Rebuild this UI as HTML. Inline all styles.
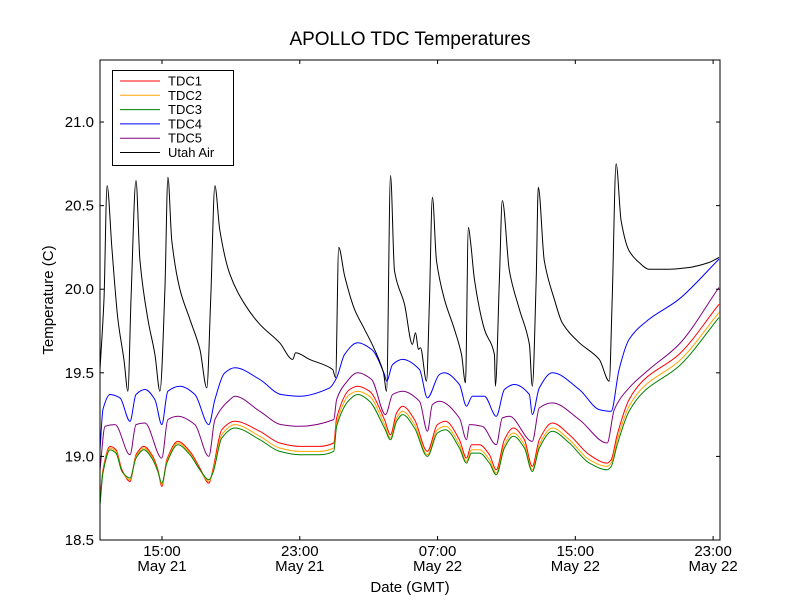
<!DOCTYPE html>
<html><head><meta charset="utf-8"><style>
body{margin:0;background:#fff}
svg{display:block;font-family:"Liberation Sans","DejaVu Sans",sans-serif}
</style></head><body>
<svg id="chart" width="800" height="600"></svg>
<script>
const tdcHours=[11.40,11.57,11.98,12.33,12.68,13.14,13.49,13.95,14.41,14.76,14.99,15.28,15.92,16.62,17.20,17.72,17.95,18.47,19.23,20.68,21.83,22.99,24.15,24.97,25.14,25.89,26.36,27.05,27.92,28.27,28.62,28.97,29.66,30.41,30.99,31.46,32.27,32.68,32.97,33.43,34.01,34.41,34.88,35.40,36.04,36.50,36.91,37.66,38.65,39.81,40.85,41.08,41.43,42.12,43.00,45.02,47.34];
const tdc1=[18.73,18.92,19.06,19.04,18.92,18.85,19.01,19.06,19.01,18.92,18.82,18.98,19.09,19.03,18.93,18.84,18.92,19.16,19.21,19.15,19.08,19.06,19.06,19.08,19.23,19.40,19.42,19.39,19.22,19.13,19.26,19.30,19.22,19.03,19.19,19.21,19.10,18.99,19.07,19.07,19.01,18.92,19.10,19.17,19.10,18.94,19.10,19.20,19.13,19.01,18.96,18.98,19.13,19.34,19.46,19.61,19.91];
const tdc2=[18.72,18.91,19.05,19.03,18.91,18.86,19.00,19.05,19.00,18.91,18.83,18.97,19.08,19.02,18.92,18.85,18.91,19.13,19.19,19.12,19.05,19.03,19.03,19.05,19.20,19.37,19.39,19.36,19.19,19.11,19.23,19.27,19.19,19.01,19.16,19.18,19.07,18.97,19.04,19.04,18.98,18.90,19.07,19.14,19.07,18.92,19.07,19.17,19.10,18.98,18.94,18.96,19.10,19.30,19.42,19.57,19.86];
const tdc3=[18.71,18.90,19.04,19.02,18.91,18.87,18.99,19.04,18.99,18.91,18.84,18.96,19.07,19.01,18.92,18.86,18.90,19.11,19.17,19.10,19.03,19.01,19.01,19.03,19.18,19.34,19.37,19.33,19.17,19.10,19.21,19.25,19.17,19.00,19.14,19.16,19.05,18.96,19.02,19.02,18.96,18.89,19.05,19.12,19.05,18.91,19.05,19.15,19.08,18.96,18.92,18.94,19.07,19.27,19.39,19.54,19.83];
const tdc4Hours=[11.40,11.57,11.98,12.56,13.14,13.49,14.01,14.59,14.99,15.34,16.04,16.91,17.72,18.07,18.65,19.23,20.68,21.92,22.99,24.73,25.14,25.60,26.36,27.17,27.92,28.04,28.39,28.97,29.95,30.41,31.11,31.40,32.27,32.68,33.02,33.72,34.41,34.88,35.46,36.33,36.50,36.91,37.66,39.23,40.39,41.08,41.54,42.12,43.28,45.02,47.34];
const tdc4=[19.04,19.28,19.37,19.35,19.21,19.37,19.40,19.34,19.19,19.39,19.42,19.37,19.19,19.34,19.50,19.53,19.46,19.37,19.36,19.41,19.47,19.61,19.68,19.64,19.49,19.45,19.55,19.58,19.52,19.35,19.49,19.50,19.43,19.30,19.36,19.36,19.24,19.40,19.43,19.37,19.25,19.41,19.50,19.40,19.28,19.27,19.52,19.70,19.82,19.94,20.18];
const tdc5Hours=[11.40,11.69,12.27,13.14,13.49,14.01,14.99,15.34,15.92,16.91,17.72,18.07,18.94,19.23,20.68,21.92,22.99,24.97,25.14,25.60,26.36,27.17,27.98,28.39,28.97,29.95,30.41,30.70,31.11,32.27,32.68,32.85,33.60,34.41,34.76,35.17,36.50,36.91,37.66,39.23,40.85,41.26,42.12,43.28,45.02,47.34];
const tdc5=[18.92,19.18,19.19,19.01,19.19,19.20,18.99,19.22,19.24,19.19,19.00,19.22,19.34,19.36,19.27,19.19,19.18,19.22,19.34,19.43,19.50,19.46,19.25,19.37,19.39,19.33,19.15,19.31,19.33,19.23,19.10,19.19,19.18,19.07,19.23,19.24,19.09,19.29,19.32,19.22,19.08,19.28,19.41,19.52,19.67,20.01];
const airHours=[11.40,11.63,11.81,12.10,12.44,12.79,13.02,13.20,13.49,13.72,14.18,14.59,14.88,15.17,15.34,15.57,16.04,16.62,17.20,17.60,17.83,18.07,18.36,18.94,19.81,20.68,21.83,22.59,22.76,23.57,24.91,25.08,25.26,25.60,26.18,26.76,27.34,27.86,28.04,28.27,28.50,29.08,29.54,29.72,29.89,30.01,30.36,30.53,30.70,30.94,31.40,31.98,32.39,32.62,32.79,32.91,33.14,33.72,34.30,34.36,34.59,34.76,35.17,35.75,36.33,36.50,36.73,36.85,37.20,37.78,38.24,39.23,40.39,40.97,41.14,41.37,41.66,42.12,42.70,43.28,44.44,45.60,46.76,47.34];
const air=[19.52,19.94,20.62,20.23,19.82,19.58,19.39,19.94,20.65,20.17,19.82,19.61,19.39,20.00,20.67,20.29,20.00,19.82,19.64,19.41,19.94,20.62,20.35,20.09,19.91,19.79,19.68,19.58,19.62,19.58,19.52,19.47,20.25,20.08,19.88,19.76,19.64,19.50,19.39,20.68,20.11,19.91,19.67,19.74,19.64,19.65,19.45,19.94,20.55,20.17,19.94,19.76,19.61,19.44,20.37,20.29,20.06,19.76,19.61,19.42,20.06,20.53,20.11,19.88,19.67,19.42,20.06,20.61,20.17,19.94,19.80,19.68,19.58,19.45,19.94,20.75,20.41,20.23,20.16,20.12,20.12,20.13,20.16,20.19];
const seriesNames=["TDC1","TDC2","TDC3","TDC4","TDC5","Utah Air"];
const yTicks=[18.5,19.0,19.5,20.0,20.5,21.0];
const xTickHours=[15,23,31,39,47];
const xTickTimes=["15:00","23:00","07:00","15:00","23:00"];
const xTickDates=["May 21","May 21","May 22","May 22","May 22"];

const NS="http://www.w3.org/2000/svg";
const svg=document.getElementById('chart');
const L=100,R=720,T=60,B=540,xMin=11.4,xMax=47.4,yMin=18.5,yMax=21.371;
const xs=h=>L+(h-xMin)/(xMax-xMin)*(R-L);
const ys=v=>B-(v-yMin)/(yMax-yMin)*(B-T);
function el(tag,attrs,parent){const e=document.createElementNS(NS,tag);for(const k in attrs)e.setAttribute(k,attrs[k]);(parent||svg).appendChild(e);return e;}
function txt(s,x,y,size,anchor,parent){const t=el('text',{x:x,y:y,'font-size':size,'text-anchor':anchor||'middle',fill:'#000'},parent);t.textContent=s;return t;}
function monotonePath(X,Y){
  const n=X.length,d=[],m=new Array(n);
  for(let i=0;i<n-1;i++)d.push((Y[i+1]-Y[i])/(X[i+1]-X[i]));
  m[0]=d[0];m[n-1]=d[n-2];
  for(let i=1;i<n-1;i++){m[i]=(d[i-1]*d[i]<=0)?0:2/(1/d[i-1]+1/d[i]);}
  let p='M'+X[0].toFixed(1)+','+Y[0].toFixed(1);
  for(let i=0;i<n-1;i++){const h=(X[i+1]-X[i])/3;
    p+='C'+(X[i]+h).toFixed(1)+','+(Y[i]+m[i]*h).toFixed(1)+' '+(X[i+1]-h).toFixed(1)+','+(Y[i+1]-m[i+1]*h).toFixed(1)+' '+X[i+1].toFixed(1)+','+Y[i+1].toFixed(1);}
  return p;
}

const clip=el('clipPath',{id:'pc'});el('rect',{x:L,y:T,width:R-L,height:B-T},clip);
const plot=el('g',{'clip-path':'url(#pc)'});


const series=[[tdcHours,tdc1,'#ff0000'],[tdcHours,tdc2,'#ffa500'],[tdcHours,tdc3,'#008000'],[tdc4Hours,tdc4,'#0000ff'],[tdc5Hours,tdc5,'#800080'],[airHours,air,'#000000']];
const lineNames=['tdc1-line','tdc2-line','tdc3-line','tdc4-line','tdc5-line','utah-air-line'];
series.forEach((s,i)=>{
  const d=monotonePath(s[0].map(xs),s[1].map(ys));
  const p=el('path',{d:d,fill:'none',stroke:s[2],'stroke-width':1},plot);
  
  
});
const frame=el('rect',{x:L,y:T,width:R-L,height:B-T,fill:'none',stroke:'#000','stroke-width':1});



yTicks.forEach(v=>{
  const y=ys(v);
  el('line',{x1:L,x2:L+4,y1:y,y2:y,stroke:'#000'});
  el('line',{x1:R,x2:R-4,y1:y,y2:y,stroke:'#000'});
  const t=txt(v.toFixed(1),L-6,y+5,15,'end');
  
  
});
xTickHours.forEach((h,i)=>{
  const x=xs(h);
  el('line',{x1:x,x2:x,y1:B,y2:B-4,stroke:'#000'});
  el('line',{x1:x,x2:x,y1:T,y2:T+4,stroke:'#000'});
  const t=txt(xTickTimes[i],x,556,15);
  
  
  const t2=txt(xTickDates[i],x,571,15);
  
  
});
const title=txt('APOLLO TDC Temperatures',410,45,19);


const xl=txt('Date (GMT)',410,592,15);


const yl=txt('Temperature (C)',0,0,15);
yl.setAttribute('transform','translate(53,300) rotate(-90)');



const lg=el('g',{});


el('rect',{x:112.5,y:70.5,width:121,height:95,fill:'#fff',stroke:'#000'},lg);
seriesNames.forEach((n,i)=>{
  const y=81+i*14.3;
  const ln=el('line',{x1:120,x2:160,y1:y,y2:y,stroke:series[i][2]},lg);
  
  
  const t=txt(n,168,y+4.5,13,'start',lg);
  
  
});
</script>
</body></html>
